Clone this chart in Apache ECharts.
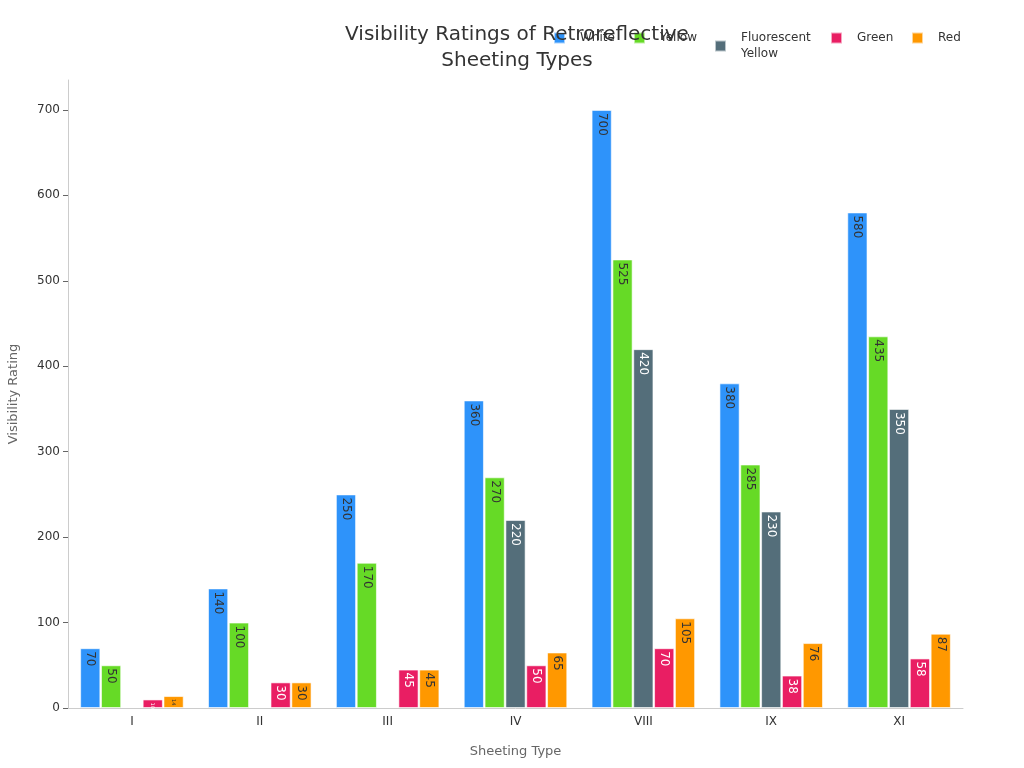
<!DOCTYPE html>
<html>
<head>
<meta charset="utf-8">
<script src="https://cdn.jsdelivr.net/npm/echarts@6/dist/echarts.min.js"></script>
<style>html,body{margin:0;padding:0;background:#fff}#c{width:1024px;height:768px}</style>
</head>
<body>
<div id="c"></div>
<script>
const categories = ['I', 'II', 'III', 'IV', 'VIII', 'IX', 'XI'];
const white = [70, 140, 250, 360, 700, 380, 580];
const yellow = [50, 100, 170, 270, 525, 285, 435];
const fluorescentYellow = [null, null, null, 220, 420, 230, 350];
const green = [10, 30, 45, 50, 70, 38, 58];
const red = [14, 30, 45, 65, 105, 76, 87];
const seriesNames = ['White', 'Yellow', 'Fluorescent\nYellow', 'Green', 'Red'];
const colors = ['#2E93FA', '#66DA26', '#546E7A', '#E91E63', '#FF9800'];
const labelColors = ['#333', '#333', '#fff', '#fff', '#333'];
const yTicks = [0, 100, 200, 300, 400, 500, 600, 700];
const legendLefts = [553, 633, 714, 830, 911];

const datasets = [white, yellow, fluorescentYellow, green, red];
const chart = echarts.init(document.getElementById('c'));
chart.setOption({
  animation: false,
  color: colors,
  title: {
    text: 'Visibility Ratings of Retroreflective\nSheeting Types',
    left: 512, top: 17, textAlign: 'center',
    textStyle: {fontFamily: 'DejaVu Sans', fontSize: 20, fontWeight: 'normal', color: '#333', lineHeight: 26}
  },
  legend: seriesNames.map((n, i) => ({
    left: legendLefts[i], top: 30, itemWidth: 11, itemHeight: 11,
    icon: 'rect', padding: 0,
    textStyle: {fontFamily: 'DejaVu Sans', fontSize: 12, color: '#333', lineHeight: 16, padding: [0, 0, 0, 10]},
    data: [n]
  })),
  grid: {left: 68, right: 61, top: 80, bottom: 60, outerBoundsMode: 'none', containLabel: false},
  xAxis: {
    type: 'category', data: categories,
    name: 'Sheeting Type', nameLocation: 'middle', nameGap: 37,
    nameTextStyle: {fontFamily: 'DejaVu Sans', fontSize: 13, color: '#666'},
    axisLine: {lineStyle: {color: '#ccc'}},
    axisTick: {alignWithLabel: true, lineStyle: {color: '#666'}},
    axisLabel: {fontFamily: 'DejaVu Sans', fontSize: 12, color: '#333'}
  },
  yAxis: {
    type: 'value', min: 0, max: 735, interval: 100,
    name: 'Visibility Rating', nameLocation: 'middle', nameGap: 48,
    nameTextStyle: {fontFamily: 'DejaVu Sans', fontSize: 13, color: '#666'},
    axisLine: {show: true, lineStyle: {color: '#ccc'}},
    axisTick: {show: true, length: 5, lineStyle: {color: '#666'}, customValues: yTicks},
    splitLine: {show: false},
    axisLabel: {fontFamily: 'DejaVu Sans', fontSize: 12, color: '#333', customValues: yTicks}
  },
  series: datasets.map((d, i) => ({
    name: seriesNames[i], type: 'bar', data: d,
    barGap: '3%', barCategoryGap: '19%',
    itemStyle: {color: colors[i], borderColor: 'rgba(255,255,255,0.6)', borderWidth: 1},
    label: {
      show: true, position: 'insideTop', rotate: -90, distance: 3,
      align: 'left', verticalAlign: 'middle',
      fontFamily: 'DejaVu Sans', fontSize: 12, color: labelColors[i],
      formatter: p => p.value == null ? '' : (p.value < 20 ? '{s|' + p.value + '}' : String(p.value)),
      rich: {s: {fontSize: 5, color: labelColors[i]}}
    }
  }))
});
</script>
</body>
</html>
